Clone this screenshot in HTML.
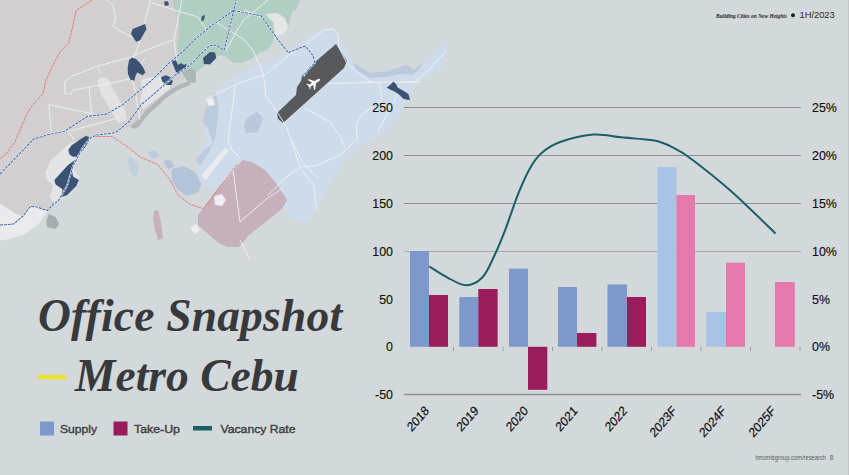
<!DOCTYPE html>
<html><head><meta charset="utf-8">
<style>
html,body{margin:0;padding:0;width:849px;height:475px;overflow:hidden;background:#d3d8db;}
svg{display:block;position:absolute;left:0;top:0;}
text{font-family:"Liberation Sans",sans-serif;}
</style></head><body>
<svg width="849" height="475" viewBox="0 0 849 475">
<rect width="849" height="475" fill="#d3d8db"/>
<g id="map">
<!-- mainland -->
<path fill="#d2cfd1" d="M0,0 L300,0 L296,10 L292,12 L288,27 L284,18 L277,14 L267,16 L273,21 L274.4,31.8 L273,42 L268.5,49.5 L259.6,52.4 L252.3,58.3 L242,62.8 L233,62.8 L224,55.4 L217,55.4 L208,62.8 L199,70 L193,74.6 L189.7,74.7 L180.5,81.7 L168.9,91 L152.7,102.5 L141,116.4 L129.5,126.9 L115.6,132.7 L110,133.5 L98.2,135.4 L89.7,136.4 L88,142.9 L82.2,151 L76.4,156.8 L74,162 L72,169 L76.4,174 L80,176.4 L77.6,181 L69.5,190 L62.5,197 L58,202 L50.9,208.4 L45.5,212 L38.8,224 L25.3,234 L10,239 L0,240.8 Z"/>
<!-- whitish urban near coast -->
<path fill="#eaeaec" d="M0,203.7 L16.9,214.5 L23.6,216 L30.4,207.5 L37,208 L47,211.5 L38.8,224 L25.3,234 L10,239 L0,240.8 Z"/>
<!-- green -->
<path fill="#b0cec2" d="M171.6,0 L300,0 L296,10 L292,12 L288,27 L284,18 L277,14 L267,16 L273,21 L274.4,31.8 L273,42 L268.5,49.5 L259.6,52.4 L252.3,58.3 L242,62.8 L233,62.8 L224,55.4 L217,55.4 L208,62.8 L199,70 L193,74.6 L192,82 L186,79 L180.5,70 L174,65.8 L179.5,55.3 L176.8,47.4 L179.5,31.6 L178.2,15.8 Z"/>
<path fill="#e4e6e6" d="M265,14 L277,13 L285,18 L288,27 L284,34 L276,36 L273,22 Z"/>
<path fill="#a9b8b3" d="M181,71 L192,68 L196,72 L195.5,83 L188,82 Z"/>
<!-- port strip -->
<path fill="#b3b6b9" d="M185.8,82 L180,84 L168,91 L155,102 L146,110 L139.5,118 L130,126.5 L134,129 L139.5,126.3 L143,121 L150,113 L158,106 L166,98 L178,90 L190,85 L192,80 Z"/>
<path fill="#e4e3e6" d="M141,80 L150,77 L163,76 L171,80 L170,89 L155,100 L143,109 L140,102 L142,92 Z"/>
<!-- Lahug strip -->
<path fill="#e2e1e4" d="M97,80 L103,77 L108,79 L126,112 L127,120 L118,123 L100,92 Z"/>
<!-- reclamation light area -->
<path fill="#e4e3e6" d="M70,143 L51,160 L45.2,171.8 L46.3,178.8 L53.3,185.7 L49.8,197.3 L53.3,202 L61.4,199.6 L67.2,195 L76.4,185.7 L80,176.4 L76.4,174 L74,169.5 L76.4,157 L82.2,151 L88,142.9 L89.2,137 Z"/>
<!-- small gray island -->
<path fill="#a6abae" d="M49,213.8 L55.6,217.2 L59,224 L55.6,229 L47.2,227.3 L46.4,220.6 Z"/>
<!-- faint shallow -->

<!-- Mactan blue -->
<path fill="#cedbea" d="M207,111.6 L210,98.3 L216,89.5 L227.8,80.6 L239.6,74.7 L257.3,65.9 L278,58 L290,49.8 L301.5,42.2 L314.8,32.7 L326,28 L333.7,29 L339.4,34.6 L345.7,49 L354,63 L370,73 L386.7,71.5 L398,68 L406,64.5 L414,70 L422,63 L432,54.2 L438.4,48 L445.8,40.5 L446.8,52 L445.8,64.7 L440.5,70 L426,78 L413,85.6 L410,95 L405,103 L397,119 L383,133 L371,141 L360,145 L354.7,150.6 L343.8,163 L332.8,179.3 L324.6,193 L316.4,209.4 L308.2,220.4 L300,221.8 L291.7,219 L280,205 L230,195 L219,192.7 L210,189.8 L201.3,184 L198.3,175 L195.4,166 L198.3,157.3 L202.8,148.5 L207,142.6 L204.2,130.8 L204.2,119 Z"/>
<!-- darker blue patches -->
<path fill="#b4c4d8" d="M171.8,169 L183.6,166 L195.4,172 L201.3,184 L198.3,192.7 L186.5,195.7 L177.7,189.8 L171.8,181 Z"/>
<path fill="#b4c4d8" d="M163,161 L170,160 L174.7,166 L168,169 Z"/>
<path fill="#bccbdc" d="M147.5,152 L155,150.5 L159,156 L152,158.7 Z"/>
<path fill="#c2cfdd" d="M127,158 L132,157 L139,166 L136,178 L130,172 Z"/>
<path fill="#b9c8da" d="M247,118 L257,112 L263,118 L258,132 L246,133 L244,125 Z"/>
<path fill="#bac9db" d="M354,63 L370,73 L386.7,71.5 L398,68 L406,64.5 L414,70 L422,63 L420,69 L412,75 L400,74 L386,77 L370,78 L356,70 Z"/>
<path fill="#bccbdd" d="M209,99 L216,92 L219,110 L215,140 L209,152 L200,166 L196,160 L202.6,151.6 L213,143 L209,130.5 L202.6,122 L204.7,111.6 Z"/>
<path fill="#eef0f2" d="M207,99 L213,98 L215,105 L208,106 Z"/>
<path fill="#e9ebee" d="M201,176 L225,148 L229,150 L206,180 Z"/>
<!-- pink Cordova -->
<path fill="#c5b0bb" d="M243,160 L252,162 L265,170 L279,187 L287,200 L282,209 L272,217 L249,235 L239,247 L227,247 L217,242 L206,232 L198,225 L198,215 L202,210 L211,197 L222,184 L229,177 L237,166 Z"/>
<path fill="#c5b0bb" d="M154,211 L158,210 L161,222 L163,238 L158,240 L155,230 L153,220 Z"/>
<path fill="#eeeef0" d="M214,196 L222,194 L226,200 L222,206 L215,205 Z"/>
<path fill="#eeeef0" d="M190,228 L196,224 L200,230 L195,234 Z"/>
<!-- runway -->
<path fill="#58595b" d="M336,44 L347,61 L344,68 L283,123 L278,119 L277,113 L296,95 L297,87 L301,81 L302,76 L315,62 Z"/>
<!-- plane -->
<path fill="#f6f6f6" d="M320.1,79.2 L320.1,80.3 L319.3,81.1 L316.0,83.3 L315.3,89.2 L314.0,90.2 L313.3,85.0 L310.7,86.5 L310.4,89.0 L309.6,89.5 L309.3,87.1 L308.4,86.5 L308.2,85.4 L306.2,84.1 L307.0,83.6 L309.5,84.4 L312.0,82.7 L307.5,79.8 L309.0,79.2 L314.6,81.1 L318.0,79.1 L319.1,78.7 Z"/>
<!-- roads -->
<g fill="none" stroke="#f2f2f3" stroke-width="0.9" stroke-linejoin="round">
<path d="M106.6,0 L113,5.3 L115.8,18.4 L113,26.3 L121,31.6 L131.6,36.8 L140,42 L150.5,0"/>
<path d="M96,66.7 L70.7,76.8 L64.8,81.9 L64.8,93.7 L70.7,94.5 L72.4,90.3 L89.2,87 L100,85.3 L130,79 L145,58"/>
<path d="M96,66.7 L118,60.5 L129,58 L140,52.6 L174,39.5 L182,0"/>
<path d="M89.2,87 L91,110.5 L92.6,113.9 L48.8,104.6 L51.3,130.7"/>
<path d="M68.2,130.7 L74,140"/>
<path d="M70.7,130.7 L100,123 L118,118"/>
<path d="M97.4,67 L101.3,73.7"/>
<path d="M150.5,2.6 L179,11.4 L198,17 L207,30.3"/>
<path d="M268,0 L243,20.8 L234.6,34.7 L225.7,51"/>
<path d="M174,39.5 L176.8,60.5"/>
<path d="M140,42 L129,68.4 L135,90 L140,120"/>
<path d="M244.6,10 L262,18"/>
<path d="M216.8,22.7 L236,34.7 L243.4,39 L253,50.3 L263.3,74.3 L265.8,95.8 L273.4,106 L286,126 L291,140 L303,163 L318,178"/>
<path d="M235.5,84.5 L228,140 L232,150 L240,158"/>
<path d="M205,100 L235.5,84.5 L265.8,74.3 L288.6,55.4 L303.8,45.3 L324,30 L334,28.8 L338,35 L339,47.8 L346.7,63 L368,80.6 L379.7,83.6 L382,100 L371,108 L360,116.4 L356,127 L357.5,138 L341,154.7 L316,165.7 L300,167 L285.4,177.9 L267.7,195.6"/>
<path d="M305,108 L330,122 L341,138 L345,148"/>
<path d="M300,168.4 L313.7,184.8 L316.4,209.4"/>
<path d="M291,140 L300,167"/>
<path d="M328,83.6 L391.5,82 L420,82"/>
<path d="M446.8,50 L428,71 L415,81.6 L402.6,82.6"/>
<path d="M398,93 L390.5,108 L377.9,131"/>
<path d="M233,170 L240,222 L265,200 L283,188"/>
<path d="M240,240 L250,260"/>
</g>
<!-- navy spots -->
<g fill="#3a5374">
<path d="M164,1.5 L168,1.3 L169,5 L165,6 Z"/>
<path d="M202,16 L205,15 L204,20 L201,21.5 Z"/>
<path d="M145,24 L146.5,29 L140,40.4 L136,41.7 L131,34 L132.6,29 L139,26.5 Z"/>
<path d="M131.7,57.5 L136,59 L140,63 L143.5,68 L145.4,72.5 L142.7,75.3 L137.2,72.5 L135.5,76 L134.4,80.8 L130.3,79.4 L128,74 L127.6,68.4 L129,60.2 Z"/>
<path d="M203,58 L210,52 L215,52.6 L216.3,58 L210,64.5 L204,64 Z"/>
<path d="M171.4,61 L176,60.2 L178,65 L181,63 L184,65 L186.4,63.5 L186,68 L181,70 L179,74 L176,72 L174,67 Z"/>
<path d="M161,77 L166,75.3 L170,77 L172.8,81 L171.5,85 L166,84.9 L162,81 Z"/>
<path d="M386.7,87.6 L390,85 L393.5,81.5 L396,84 L397.6,87.6 L402,90 L408.5,94 L410,100 L406,99.5 L403,98.5 L399,94.5 L394.8,91.7 L390,89.5 Z"/>
<path d="M89.2,137 L88,142.9 L82.2,151 L76.4,156.8 L73,156.8 L69.5,154.4 L68.3,149.8 L71.8,145.2 L80,139.4 L85.7,135.9 Z"/>
<path d="M75,160 L74.1,163.7 L71.8,169.5 L73,176.4 L78.8,180 L76.4,185.7 L67.2,195 L61.4,197.3 L62.5,189.2 L55.6,184.5 L54.4,180 L68,165 Z"/>
</g>
<!-- red dashed -->
<g fill="none" stroke="#ea7a6c" stroke-width="1" stroke-dasharray="3,0.8">
<path d="M92,0 L76.3,10.5 L75,15.8 L71,34 L68.4,43.4 L60.5,51.3 L55.6,60 L50.5,70 L45.5,81.9 L43,93.7 L32,105.5 L27,113.9 L16.8,137.4 L14.7,142.4 L5.9,154 L0,158.7"/>
<path d="M94.4,136.5 L112,136.5 L129.8,148.3 L140,157 L157.7,164.5 L169.5,179.3 L178.3,195.5 L190,204.3 L203.4,208.7 L212.2,198.4 L219.6,186.6 L228.4,176.3 L237.3,164"/>
</g>
<!-- blue dashed w/ white casing -->
<g fill="none" stroke="#f2f3f5" stroke-width="1.8">
<path d="M0,174 L33.7,139 L50.5,134 L64,131.5 L75.8,124 L87.5,116.4 L106.3,114.1 L122.5,104.9 L136.4,93.3 L152.7,79.4 L168.9,63.2 L182.8,51.6 L194.4,40 L211,26 L233.4,10.5"/>
<path d="M0,225 L13.5,224 L23.6,215.5 L30.4,206.3 L37,207 L47.2,210.5 L54,203.7 L58.4,200.8 L67,186 L73,166 L83,147 L91,137.5 L97,135 L115.6,132.7 L129.5,121 L141,104.9 L157.3,91 L175.8,74.7 L189.7,65.5 L200,55 L209.5,45.8 L215.4,45 L224,50.2 L231.6,20 L236,0"/>
<path d="M233.4,10.5 L261,15.8 L277,38.4 L288.2,52.7 L299.6,48 L305.3,46 L313,55.5 L314.8,63 L309,68.8 L303.4,76.4"/>
</g>
<g fill="none" stroke="#3e6cae" stroke-width="1.1" stroke-dasharray="3,0.9">
<path d="M0,174 L33.7,139 L50.5,134 L64,131.5 L75.8,124 L87.5,116.4 L106.3,114.1 L122.5,104.9 L136.4,93.3 L152.7,79.4 L168.9,63.2 L182.8,51.6 L194.4,40 L211,26 L233.4,10.5"/>
<path d="M0,225 L13.5,224 L23.6,215.5 L30.4,206.3 L37,207 L47.2,210.5 L54,203.7 L58.4,200.8 L67,186 L73,166 L83,147 L91,137.5 L97,135 L115.6,132.7 L129.5,121 L141,104.9 L157.3,91 L175.8,74.7 L189.7,65.5 L200,55 L209.5,45.8 L215.4,45 L224,50.2 L231.6,20 L236,0"/>
<path d="M233.4,10.5 L261,15.8 L277,38.4 L288.2,52.7 L299.6,48 L305.3,46 L313,55.5 L314.8,63 L309,68.8 L303.4,76.4"/>
</g>
</g>

<g id="grid" stroke="#8d9193" stroke-width="1">
<line x1="404" y1="107.5" x2="801" y2="107.5"/>
<line x1="404" y1="155.5" x2="801" y2="155.5"/>
<line x1="404" y1="203.5" x2="801" y2="203.5"/>
<line x1="404" y1="251.5" x2="801" y2="251.5" stroke="#a6aaac"/>
</g>
<line x1="404" y1="394.5" x2="801" y2="394.5" stroke="#8a8e91" stroke-width="1.6"/>
<g id="bars">
<rect x="410" y="251" width="19" height="95.8" fill="#7e98cb"/>
<rect x="429" y="295" width="19" height="51.8" fill="#9b1c5b"/>
<rect x="459.3" y="297" width="19" height="49.8" fill="#7e98cb"/>
<rect x="478.3" y="289" width="19.3" height="57.8" fill="#9b1c5b"/>
<rect x="509" y="268.6" width="19" height="78.2" fill="#7e98cb"/>
<rect x="528" y="346.8" width="19.3" height="43" fill="#9b1c5b"/>
<rect x="558" y="287" width="19" height="59.8" fill="#7e98cb"/>
<rect x="577" y="333" width="19.4" height="13.8" fill="#9b1c5b"/>
<rect x="607.5" y="284.5" width="19.5" height="62.3" fill="#7e98cb"/>
<rect x="627" y="297" width="19" height="49.8" fill="#9b1c5b"/>
<rect x="657.5" y="167" width="19" height="179.8" fill="#a8c3e3"/>
<rect x="676.5" y="195" width="18.5" height="151.8" fill="#e579ae"/>
<rect x="706" y="312" width="20" height="34.8" fill="#a8c3e3"/>
<rect x="726" y="262.7" width="19" height="84.1" fill="#e579ae"/>
<rect x="775" y="282" width="19.8" height="64.8" fill="#e579ae"/>
</g>
<g id="ticks" stroke="#8d9193" stroke-width="0.8">
<line x1="453.5" y1="347" x2="453.5" y2="351"/>
<line x1="503" y1="347" x2="503" y2="351"/>
<line x1="552.5" y1="347" x2="552.5" y2="351"/>
<line x1="602" y1="347" x2="602" y2="351"/>
<line x1="651.5" y1="347" x2="651.5" y2="351"/>
<line x1="701" y1="347" x2="701" y2="351"/>
<line x1="750.5" y1="347" x2="750.5" y2="351"/>
<line x1="800" y1="347" x2="800" y2="351"/>
</g>
<path id="vac" d="M429.2,266.4 C432.2,268.2 441.0,274.1 447.1,277.3 C453.2,280.5 460.1,285.3 466,285.3 C471.9,285.3 477.8,282.2 482.5,277.3 C487.2,272.4 490.3,264.2 494.2,256 C498.1,247.8 502.1,238.0 506,227.8 C509.9,217.6 513.9,204.6 517.8,194.8 C521.7,185.0 525.7,175.8 529.6,168.9 C533.5,162.0 536.2,157.8 541.3,153.3 C546.4,148.8 551.6,145.1 560.2,142 C568.9,138.9 583.0,135.3 593.2,134.5 C603.4,133.7 611.2,136.3 621.4,137.3 C631.6,138.3 645.8,138.9 654.4,140.6 C663.0,142.3 667.0,144.5 673.3,147.7 C679.6,150.8 682.6,152.4 692,159.5 C701.4,166.6 715.9,177.8 729.8,190.1 C743.7,202.4 767.9,226.2 775.5,233.4" fill="none" stroke="#1a5f68" stroke-width="2" stroke-linejoin="round"/>
<g id="ylab" font-size="12.4" fill="#111" stroke="#111" stroke-width="0.15" text-anchor="end">
<text x="393" y="112">250</text>
<text x="393" y="160">200</text>
<text x="393" y="208">150</text>
<text x="393" y="256">100</text>
<text x="393" y="303.5">50</text>
<text x="393" y="351">0</text>
<text x="393" y="399">-50</text>
</g>
<g id="rlab" font-size="12.4" fill="#111" stroke="#111" stroke-width="0.15" text-anchor="start">
<text x="812" y="112">25%</text>
<text x="812" y="160">20%</text>
<text x="812" y="208">15%</text>
<text x="812" y="256">10%</text>
<text x="812" y="303.5">5%</text>
<text x="812" y="351">0%</text>
<text x="812" y="399">-5%</text>
</g>
<g id="xlab" font-size="12.3" fill="#111" stroke="#111" stroke-width="0.2" text-anchor="end">
<text transform="translate(429.8,411.5) scale(0.93,1.08) rotate(-45)">2018</text>
<text transform="translate(479.3,411.5) scale(0.93,1.08) rotate(-45)">2019</text>
<text transform="translate(528.8,411.5) scale(0.93,1.08) rotate(-45)">2020</text>
<text transform="translate(578.3,411.5) scale(0.93,1.08) rotate(-45)">2021</text>
<text transform="translate(627.8,411.5) scale(0.93,1.08) rotate(-45)">2022</text>
<text transform="translate(677.3,411.5) scale(0.93,1.08) rotate(-45)">2023F</text>
<text transform="translate(726.8,411.5) scale(0.93,1.08) rotate(-45)">2024F</text>
<text transform="translate(776.3,411.5) scale(0.93,1.08) rotate(-45)">2025F</text>
</g>
<g id="title" font-family="Liberation Serif" font-weight="bold" font-style="italic" fill="#38393b" font-size="45.5">
<text x="38" y="331" letter-spacing="0.2" style="font-family:'Liberation Serif',serif">Office Snapshot</text>
<text x="75" y="391" style="font-family:'Liberation Serif',serif">Metro Cebu</text>
</g>
<rect x="38" y="375" width="28" height="4" fill="#eee21a"/>
<g id="legend" font-size="11.8" fill="#3a3e42">
<rect x="40" y="421.5" width="14" height="14" fill="#7e98cb"/>
<text stroke="#3a3e42" stroke-width="0.4" x="60" y="433" textLength="37" lengthAdjust="spacingAndGlyphs">Supply</text>
<rect x="113.5" y="421.5" width="14" height="14" fill="#9b1c5b"/>
<text stroke="#3a3e42" stroke-width="0.4" x="134" y="433" textLength="46" lengthAdjust="spacingAndGlyphs">Take-Up</text>
<rect x="193" y="426" width="19" height="4.5" fill="#1a5f68"/>
<text stroke="#3a3e42" stroke-width="0.4" x="220.5" y="433" textLength="75" lengthAdjust="spacingAndGlyphs">Vacancy Rate</text>
</g>
<text x="716" y="17.5" font-size="7" fill="#1e1e1e" font-style="italic" font-weight="bold" font-family="Liberation Serif" textLength="71" lengthAdjust="spacingAndGlyphs" style="font-family:'Liberation Serif',serif">Building Cities on New Heights</text>
<circle cx="793" cy="15.3" r="2" fill="#222"/>
<text x="799.5" y="18.4" font-size="9.3" fill="#2a2a2a">1H/2023</text>
<text x="755.4" y="460" font-size="6.3" fill="#555a5e" textLength="70.6" lengthAdjust="spacingAndGlyphs">hmorrisgroup.com/research</text>
<text x="829.8" y="460" font-size="6.3" fill="#555a5e">8</text>
<rect x="848" y="0" width="1" height="475" fill="#c5c6c9"/>
</svg>
</body></html>
